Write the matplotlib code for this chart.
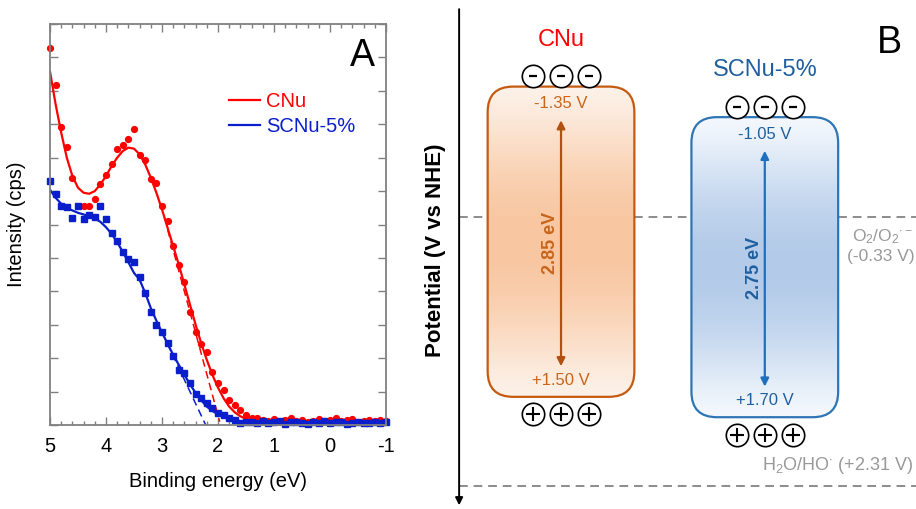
import numpy as np
import matplotlib.pyplot as plt
from matplotlib.patches import FancyBboxPatch
from matplotlib.colors import to_rgb

plt.rcParams['font.family'] = ['Liberation Sans', 'DejaVu Sans']
plt.rcParams['mathtext.fontset'] = 'custom'
plt.rcParams['mathtext.rm'] = 'Liberation Sans'
plt.rcParams['mathtext.it'] = 'Liberation Sans:italic'
plt.rcParams['mathtext.bf'] = 'Liberation Sans:bold'
plt.rcParams['axes.unicode_minus'] = False

# ---------------- (A) VB-XPS data ----------------
red_x = [5.0, 4.9, 4.8, 4.7, 4.6, 4.4, 4.3, 4.2, 4.1, 4.0, 3.9, 3.8, 3.7, 3.6, 3.5,
         3.4, 3.3, 3.2, 3.1, 3.0, 2.9, 2.8, 2.7, 2.6, 2.5, 2.4, 2.3, 2.2, 2.1, 2.0,
         1.9, 1.8, 1.7, 1.6, 1.5, 1.4, 1.3, 1.2, 1.1, 1.0, 0.9, 0.8, 0.7, 0.6, 0.5,
         0.4, 0.3, 0.2, 0.1, 0.0, -0.1, -0.2, -0.3, -0.4, -0.5, -0.6, -0.7, -0.8,
         -0.9, -1.0]
red_y = [11.28, 10.16, 8.93, 8.31, 7.40, 6.54, 6.54, 6.76, 7.22, 7.48, 7.80, 8.25,
         8.38, 8.56, 8.85, 8.07, 7.93, 7.36, 7.24, 6.54, 6.11, 5.36, 4.78, 4.27,
         3.39, 2.79, 2.42, 2.19, 1.60, 1.25, 1.05, 0.75, 0.60, 0.45, 0.30, 0.20,
         0.20, 0.15, 0.12, 0.18, 0.10, 0.14, 0.20, 0.12, 0.16, 0.10, 0.13, 0.18,
         0.12, 0.15, 0.20, 0.11, 0.14, 0.17, 0.10, 0.13, 0.16, 0.12, 0.15, 0.11]

blue_x = [5.0, 4.9, 4.8, 4.7, 4.6, 4.5, 4.4, 4.3, 4.2, 4.1, 4.0, 3.9, 3.8, 3.7, 3.6,
          3.5, 3.4, 3.3, 3.2, 3.1, 3.0, 2.9, 2.8, 2.7, 2.6, 2.5, 2.4, 2.3, 2.2, 2.1,
          2.0, 1.9, 1.8, 1.7, 1.6, 1.5, 1.4, 1.3, 1.2, 1.1, 1.0, 0.9, 0.8, 0.7, 0.6,
          0.5, 0.4, 0.3, 0.2, 0.1, 0.0, -0.1, -0.2, -0.3, -0.4, -0.5, -0.6, -0.7,
          -0.8, -0.9, -1.0]
blue_y = [7.31, 6.91, 6.54, 6.51, 6.19, 6.54, 6.17, 6.29, 6.21, 6.54, 6.17, 5.76,
          5.52, 5.19, 4.96, 4.89, 4.44, 3.95, 3.39, 2.99, 2.79, 2.45, 2.07, 1.65,
          1.57, 1.25, 0.93, 0.82, 0.65, 0.50, 0.35, 0.30, 0.20, 0.15, 0.07, 0.08,
          0.10, 0.06, 0.12, 0.05, 0.09, 0.11, 0.04, 0.08, 0.10, 0.06, 0.03, 0.09,
          0.07, 0.12, 0.05, 0.08, 0.10, 0.04, 0.07, 0.09, 0.06, 0.05, 0.08, 0.07,
          0.10]

# fitted curves
red_fit_x = [5.0, 4.9, 4.8, 4.7, 4.6, 4.5, 4.4, 4.3, 4.2, 4.1, 4.0, 3.9, 3.8, 3.7,
             3.6, 3.5, 3.4, 3.3, 3.2, 3.1, 3.0, 2.9, 2.8, 2.7, 2.6, 2.5, 2.4, 2.3,
             2.2, 2.1, 2.0, 1.9, 1.8, 1.7, 1.6, 1.5, 1.4, 1.3, -1.0]
red_fit_y = [10.58, 9.60, 8.75, 8.00, 7.45, 7.10, 6.95, 6.92, 7.00, 7.20, 7.45,
             7.75, 8.00, 8.20, 8.30, 8.27, 8.10, 7.80, 7.40, 6.95, 6.45, 5.90,
             5.35, 4.80, 4.20, 3.60, 3.00, 2.45, 1.95, 1.50, 1.12, 0.80, 0.55,
             0.38, 0.26, 0.18, 0.14, 0.12, 0.12]
blue_fit_x = [5.0, 4.9, 4.8, 4.7, 4.6, 4.5, 4.4, 4.3, 4.2, 4.1, 4.0, 3.9, 3.8, 3.7,
              3.6, 3.5, 3.4, 3.3, 3.2, 3.1, 3.0, 2.9, 2.8, 2.7, 2.6, 2.5, 2.4, 2.3,
              2.2, 2.1, 2.0, 1.9, 1.8, 1.7, 1.6, 1.5, -1.0]
blue_fit_y = [7.04, 6.80, 6.62, 6.50, 6.42, 6.35, 6.30, 6.25, 6.18, 6.08, 5.92,
              5.72, 5.47, 5.18, 4.87, 4.55, 4.35, 3.95, 3.50, 3.12, 2.77, 2.43,
              2.10, 1.80, 1.50, 1.22, 0.96, 0.74, 0.55, 0.42, 0.32, 0.24, 0.18,
              0.13, 0.10, 0.09, 0.08]

# linear extrapolations of the leading edge
red_tan_x = [2.90, 1.97]
red_tan_y = [5.85, 0.10]
blue_tan_x = [3.00, 2.22]
blue_tan_y = [2.78, 0.0]

# ---------------- (B) band structure data ----------------
samples = ['CNu', 'SCNu-5%']
cb = [-1.35, -1.05]
vb = [1.50, 1.70]
gap = [2.85, 2.75]
redox_o2 = -0.33
redox_oh = 2.31

fig = plt.figure(figsize=(9.16, 5.09), dpi=100)

# ---------- panel A ----------
ax1 = fig.add_axes([50/916, 84/509, 336/916, 401/509])
red = '#ff0000'
blue = '#0a1ecc'
ax1.plot(red_fit_x, red_fit_y, color=red, lw=1.6, label='CNu')
ax1.plot(blue_fit_x, blue_fit_y, color=blue, lw=1.6, label='SCNu-5%')
ax1.plot(red_tan_x, red_tan_y, color=red, lw=1.1, ls=(0, (5, 3)))
ax1.plot(blue_tan_x, blue_tan_y, color=blue, lw=1.1, ls=(0, (5, 3)))
ax1.plot(red_x, red_y, 'o', color=red, ms=4.2, clip_on=False)
ax1.plot(blue_x, blue_y, 's', color=blue, ms=4.6, clip_on=False)

ax1.set_xlim(5, -1)
ax1.set_ylim(0, 12)
ax1.set_xticks([5, 4, 3, 2, 1, 0, -1])
ax1.set_xticks(np.arange(-1, 5.01, 0.2), minor=True)
ax1.set_yticks(range(13))
ax1.set_yticklabels([])
ax1.tick_params(direction='in', top=True, right=True, length=6, width=1,
                color='#808080', labelsize=14.5, pad=9)
ax1.tick_params(which='minor', direction='in', top=True, length=3, width=1,
                color='#808080')
for s in ax1.spines.values():
    s.set_color('#808080')
    s.set_linewidth(1.3)
ax1.set_xlabel('Binding energy (eV)', fontsize=14.5, labelpad=11)
ax1.set_ylabel('Intensity (cps)', fontsize=14.5, labelpad=8)
ax1.legend(loc='upper left', bbox_to_anchor=(0.48, 0.875), frameon=False,
           fontsize=14.5, handlelength=1.5, handletextpad=0.3, labelspacing=0.3,
           labelcolor='linecolor')
ax1.text(0.93, 0.92, 'A', transform=ax1.transAxes, fontsize=27,
         ha='center', va='center')

# ---------- panel B ----------
ax2 = fig.add_axes([420/916, 0, 496/916, 1])
ax2.axis('off')

edge_cols = ['#c55a11', '#2e75b6']
text_cols = ['#c8651b', '#1f5f9f']
arrow_cols = ['#b4500f', '#1f6fbf']
title_cols = ['#ff0000', '#1f5f9f']
grad_cols = [('#fdf2e9', '#f8c6a0'), ('#f4f8fd', '#b3cbe9')]
half_w = 0.72
pad_top, pad_bot = 0.26, -0.065

# potential axis and reference levels
ax2.annotate('', xy=(-1.0, 2.50), xytext=(-1.0, -2.37),
             arrowprops=dict(arrowstyle='-|>', color='black', lw=1.4,
                             mutation_scale=11, shrinkA=0, shrinkB=0))
ax2.text(-1.23, 0.0, 'Potential (V vs NHE)', rotation=90, ha='center',
         va='center', fontsize=16, fontweight='bold')
for lev in [redox_o2, redox_oh]:
    ax2.plot([-1.0, 3.5], [lev, lev], color='#8c8c8c', lw=1.4,
             ls=(0, (4.5, 3)), zorder=1)
ax2.text(3.45, redox_o2 + 0.19, r'O$_2$/O$_2$$^{\bullet -}$', color='#999999',
         fontsize=12.5, ha='right', va='center')
ax2.text(3.47, redox_o2 + 0.39, '(-0.33 V)', color='#999999', fontsize=12.5,
         ha='right', va='center')
ax2.text(3.46, redox_oh - 0.2, r'H$_2$O/HO$^{\bullet}$ (+2.31 V)',
         color='#999999', fontsize=13, ha='right', va='center')

for i, name in enumerate(samples):
    xc = 2.0 * i
    top = cb[i] - pad_top
    bot = vb[i] + pad_bot
    # gradient fill clipped by rounded box
    t = np.linspace(0, 1, 200)
    w = np.sin(np.pi * t) ** 1.3
    c0 = np.array(to_rgb(grad_cols[i][0]))
    c1 = np.array(to_rgb(grad_cols[i][1]))
    grad = c0[None, :] + (c1 - c0)[None, :] * w[:, None]
    im = ax2.imshow(grad[:, None, :], extent=(xc - half_w, xc + half_w, bot, top),
                    aspect='auto', zorder=2, interpolation='bilinear')
    box = FancyBboxPatch((xc - half_w, top), 2 * half_w, bot - top,
                         boxstyle='round,pad=0,rounding_size=0.25',
                         fc='none', ec=edge_cols[i], lw=1.6, zorder=3)
    ax2.add_patch(box)
    im.set_clip_path(box)

    ax2.text(xc, top - 0.46, name, color=title_cols[i], fontsize=17,
             ha='center', va='center')
    ax2.text(xc, top + 0.17, f'{cb[i]:.2f} V', color=text_cols[i], fontsize=12,
             ha='center', va='center', zorder=4)
    ax2.text(xc, bot - 0.16, f'+{vb[i]:.2f} V', color=text_cols[i], fontsize=12,
             ha='center', va='center', zorder=4)
    ax2.annotate('', xy=(xc, top + 0.33), xytext=(xc, bot - 0.30),
                 arrowprops=dict(arrowstyle='<|-|>', color=arrow_cols[i], lw=1.6,
                                 mutation_scale=12, shrinkA=0, shrinkB=0), zorder=4)
    ax2.text(xc - 0.1, (top + bot) / 2 + 0.01, f'{gap[i]:.2f} eV', rotation=90,
             color=text_cols[i], fontsize=13, fontweight='bold',
             ha='center', va='center', zorder=4)

    # electrons and holes
    ex = [xc - 0.275, xc, xc + 0.275]
    ax2.scatter(ex, [top - 0.1] * 3, s=260, marker='o', facecolor='white',
                edgecolor='black', lw=1.2, zorder=5)
    ax2.scatter(ex, [top - 0.1] * 3, s=30, marker='_', color='black', lw=1.6,
                zorder=6)
    ax2.scatter(ex, [bot + 0.17] * 3, s=260, marker='o', facecolor='white',
                edgecolor='black', lw=1.2, zorder=5)
    ax2.scatter(ex, [bot + 0.17] * 3, s=110, marker='+', color='black', lw=1.5,
                zorder=6)

ax2.text(3.22, -2.04, 'B', fontsize=27, ha='center', va='center')
ax2.set_xlim(-1.384, 3.484)
ax2.set_ylim(2.536, -2.460)

plt.savefig('out.png', dpi=100)
